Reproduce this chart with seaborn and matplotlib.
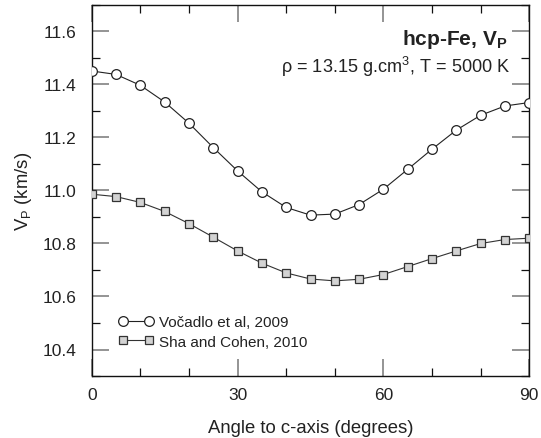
import numpy as np
import pandas as pd
import matplotlib
matplotlib.use("Agg")
import matplotlib.pyplot as plt
from matplotlib.ticker import MultipleLocator
import seaborn as sns

angles = [0, 5, 10, 15, 20, 25, 30, 35, 40, 45, 50, 55, 60, 65, 70, 75, 80, 85, 90]
vocadlo = [11.451, 11.438, 11.397, 11.334, 11.254, 11.162, 11.074, 10.995, 10.936, 10.907,
           10.911, 10.947, 11.005, 11.080, 11.156, 11.228, 11.284, 11.319, 11.332]
sha = [10.986, 10.977, 10.955, 10.921, 10.875, 10.824, 10.772, 10.726, 10.689, 10.666,
       10.659, 10.665, 10.683, 10.713, 10.743, 10.772, 10.800, 10.815, 10.820]
labels = ["Vočadlo et al, 2009", "Sha and Cohen, 2010"]

sns.set_style("ticks")
plt.rcParams['font.family'] = ['Liberation Sans', 'DejaVu Sans']
plt.rcParams['mathtext.fontset'] = 'custom'
plt.rcParams['mathtext.rm'] = 'Liberation Sans'
plt.rcParams['mathtext.bf'] = 'Liberation Sans:bold'

fig = plt.figure(figsize=(5.41, 4.39), dpi=100)
ax = fig.add_axes([91.7/541, 1 - 377/439, (529.3-91.7)/541, (377-6)/439])

df1 = pd.DataFrame({"angle": angles, "v": vocadlo})
df2 = pd.DataFrame({"angle": angles, "v": sha})
sns.lineplot(data=df1, x="angle", y="v", ax=ax, color="#222222", lw=0.8,
             marker="o", markersize=7.0, markerfacecolor="white",
             markeredgecolor="#222222", markeredgewidth=0.9, label=labels[0], zorder=3)
sns.lineplot(data=df2, x="angle", y="v", ax=ax, color="#333333", lw=0.8,
             marker="s", markersize=6, markerfacecolor="#d3d3d3",
             markeredgecolor="#333333", markeredgewidth=0.9, label=labels[1], zorder=3)

ax.set_xlim(0, 90)
ax.set_ylim(10.3, 11.7)
ax.xaxis.set_major_locator(MultipleLocator(30))
ax.xaxis.set_minor_locator(MultipleLocator(10))
ax.yaxis.set_major_locator(MultipleLocator(0.2))
ax.yaxis.set_minor_locator(MultipleLocator(0.1))
ax.yaxis.set_major_formatter(matplotlib.ticker.FormatStrFormatter('%.1f'))
ax.tick_params(which='both', direction='in', top=True, right=True)
ax.tick_params(which='major', length=12, width=1.1, labelsize=12.5, color='#777777',
               labelcolor='#222222')
ax.tick_params(axis='x', which='major', pad=8)
ax.tick_params(axis='y', which='major', pad=11)
ax.tick_params(which='minor', length=6, width=0.9, color='#111111')
for s in ax.spines.values():
    s.set_linewidth(1.0)
    s.set_color('#111111')

ax.set_xlabel("Angle to c-axis (degrees)", fontsize=13.3, labelpad=12, color='#222222')
ax.set_ylabel(r"V$_\mathregular{P}$ (km/s)", fontsize=13.3, labelpad=6, color='#222222')

ax.text(0.951, 0.895, r"hcp-Fe, V$_\mathbf{P}$", transform=ax.transAxes, ha='right',
        va='baseline', fontsize=15, fontweight='bold', color='#222222')
ax.text(0.956, 0.819, r"ρ = 13.15 g.cm$^\mathregular{3}$, T = 5000 K", transform=ax.transAxes,
        ha='right', va='baseline', fontsize=13.1, color='#222222')

leg = ax.legend(loc='center left', bbox_to_anchor=(0.062, 0.119), frameon=False,
                fontsize=11, numpoints=2, handlelength=2.3, handletextpad=0.35,
                labelspacing=0.35, borderaxespad=0, borderpad=0)
for t in leg.get_texts():
    t.set_color('#222222')

fig.savefig("out.png", dpi=100)
